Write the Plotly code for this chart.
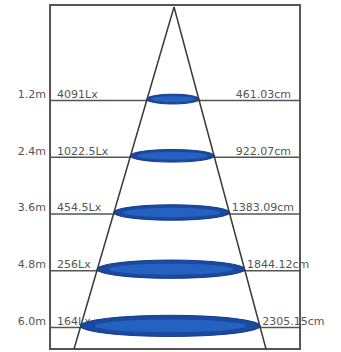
import plotly.graph_objects as go

# ---- data ----
depth_m = [1.2, 2.4, 3.6, 4.8, 6.0]
depth_labels = ["1.2m", "2.4m", "3.6m", "4.8m", "6.0m"]
lux_labels = ["4091Lx", "1022.5Lx", "454.5Lx", "256Lx", "164Lx"]
diameter_labels = ["461.03cm", "922.07cm", "1383.09cm", "1844.12cm", "2305.15cm"]

# ---- layout geometry (drawing units: metres, PX pixels per metre) ----
W, H = 341, 352
PX = 47.25
X_RANGE = [-3.683, 3.534]
Y_RANGE = [6.521, -0.929]          # reversed: depth grows downward
BOX_L, BOX_R = -2.624, 2.667
BOX_T, BOX_B = -0.823, 6.457
APEX_Y = -0.781
SLOPE_L, SLOPE_R = 0.2924, 0.269

FONT = dict(family="DejaVu Sans", size=11, color="#555555")
CHAR_W = {"0": .636, "1": .636, "2": .636, "3": .636, "4": .636, "5": .636,
          "6": .636, "7": .636, "8": .636, "9": .636, ".": .318, "c": .55, "m": .974}


def text_width_m(s):
    return sum(CHAR_W.get(ch, .6) for ch in s) * FONT["size"] / PX


def cone_left(d):
    return -SLOPE_L * (d - APEX_Y)


def cone_right(d):
    return SLOPE_R * (d - APEX_Y)


fig = go.Figure()

# depth labels (left of frame)
fig.add_trace(go.Scatter(
    x=[BOX_L - 4 / PX] * len(depth_m), y=depth_m, mode="text",
    text=depth_labels, textposition="top left", textfont=FONT,
    hoverinfo="skip", showlegend=False))

# illuminance labels
fig.add_trace(go.Scatter(
    x=[BOX_L + 7 / PX] * len(depth_m), y=depth_m, mode="text",
    text=lux_labels, textposition="top right", textfont=FONT,
    hoverinfo="skip", showlegend=False))

# diameter labels
diam_x = [max(cone_right(d) + 2 / PX, BOX_R - 9 / PX - text_width_m(t))
          for d, t in zip(depth_m, diameter_labels)]
fig.add_trace(go.Scatter(
    x=diam_x, y=depth_m, mode="text",
    text=diameter_labels, textposition="top right", textfont=FONT,
    hoverinfo="skip", showlegend=False))

shapes = []
# frame
shapes.append(dict(type="rect", xref="x", yref="y", x0=BOX_L, x1=BOX_R, y0=BOX_T, y1=BOX_B,
                   line=dict(color="#555555", width=2), layer="below"))
# row lines
for d in depth_m:
    shapes.append(dict(type="line", xref="x", yref="y", x0=BOX_L, x1=BOX_R, y0=d, y1=d,
                       line=dict(color="#555555", width=1.5), layer="below"))
# light spots
for d in depth_m:
    xl, xr = cone_left(d), cone_right(d)
    w = xr - xl
    h = 5 / PX + 0.09 * w
    yc = d - 1.5 / PX
    shapes.append(dict(type="circle", xref="x", yref="y", x0=xl, x1=xr,
                       y0=yc - h / 2, y1=yc + h / 2,
                       fillcolor="#1a4aa0", line=dict(color="#15398a", width=1), layer="above"))
    xc = (xl + xr) / 2
    shapes.append(dict(type="circle", xref="x", yref="y", x0=xc - w * 0.42, x1=xc + w * 0.42,
                       y0=yc - h * 0.3, y1=yc + h * 0.3,
                       fillcolor="#2765c6", line=dict(width=0), opacity=0.85, layer="above"))
# cone
shapes.append(dict(type="line", xref="x", yref="y", x0=0, y0=APEX_Y, x1=cone_left(BOX_B), y1=BOX_B,
                   line=dict(color="#3a3a3a", width=1.5), layer="above"))
shapes.append(dict(type="line", xref="x", yref="y", x0=0, y0=APEX_Y, x1=cone_right(BOX_B), y1=BOX_B,
                   line=dict(color="#3a3a3a", width=1.5), layer="above"))

fig.update_layout(
    width=W, height=H, margin=dict(l=0, r=0, t=0, b=0),
    paper_bgcolor="white", plot_bgcolor="white",
    xaxis=dict(range=X_RANGE, visible=False, fixedrange=True),
    yaxis=dict(range=Y_RANGE, visible=False, fixedrange=True),
    shapes=shapes, showlegend=False,
)

fig.write_html("out.html", config={"displayModeBar": False},
               post_script="document.body.style.margin='0';document.body.style.overflow='hidden';")
